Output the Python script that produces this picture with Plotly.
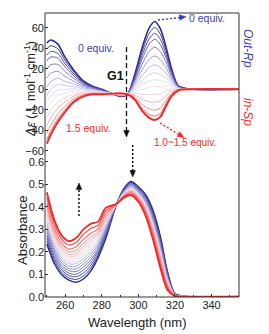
import math
import plotly.graph_objects as go

# ---------------- data ----------------
wl_cd = [250, 252, 256, 260, 265, 270, 275, 280, 290, 294, 298, 302, 306, 309, 312, 315, 318, 322, 330, 355]

cd_00 = [45, 48, 44, 31, 18, 8, 3, 0, -7, -5, 14, 40, 60, 66, 59, 42, 21, 3, 0, 0]
cd_06 = [39.1, 42.4, 39.4, 27.8, 16.2, 7.1, 2.5, -0.3, -6.8, -5, 12.6, 36.3, 54.7, 60.2, 53.8, 38.5, 19.3, 2.8, 0, 0]
cd_12 = [33.2, 36.8, 34.9, 24.6, 14.4, 6.2, 2.0, -0.6, -6.6, -5, 11.1, 32.7, 49.4, 54.5, 48.7, 34.9, 17.6, 2.5, 0, 0]
cd_18 = [27.4, 31.3, 30.3, 21.5, 12.6, 5.3, 1.6, -0.9, -6.5, -5, 9.7, 29.0, 44.2, 48.7, 43.5, 31.4, 16.0, 2.3, 0, 0]
cd_26 = [19.5, 23.8, 24.2, 17.2, 10.2, 4.1, 0.9, -1.3, -6.2, -5, 7.8, 24.1, 37.1, 41.0, 36.6, 26.7, 13.7, 2.0, 0, 0]
cd_35 = [10.7, 15.4, 17.4, 12.4, 7.5, 2.7, 0.2, -1.8, -5.9, -5, 5.6, 18.6, 29.2, 32.4, 28.9, 21.3, 11.2, 1.6, 0, 0]
cd_44 = [1.9, 7.1, 10.6, 7.7, 4.8, 1.4, -0.5, -2.2, -5.7, -5, 3.4, 13.2, 21.3, 23.8, 21.2, 16.0, 8.7, 1.2, 0, 0]
cd_52 = [-6.0, -0.4, 4.5, 3.4, 2.4, 0.2, -1.2, -2.6, -5.4, -5, 1.5, 8.3, 14.2, 16.1, 14.3, 11.3, 6.4, 0.9, 0, 0]
cd_59 = [-12.8, -6.9, -0.8, -0.3, 0.3, -0.9, -1.7, -3.0, -5.2, -5, -0.2, 4.0, 8.1, 9.4, 8.3, 7.2, 4.5, 0.6, 0, 0]
cd_66 = [-19.7, -13.4, -6.2, -4.0, -1.8, -1.9, -2.3, -3.3, -5.0, -5, -1.8, -0.3, 1.9, 2.6, 2.2, 3.1, 2.5, 0.4, 0, 0]
cd_74 = [-27.5, -20.8, -12.2, -8.2, -4.2, -3.1, -2.9, -3.7, -4.8, -5, -3.8, -5.1, -5.1, -5.0, -4.6, -1.7, 0.3, 0, 0, 0]
cd_82 = [-35.4, -28.3, -18.3, -12.5, -6.6, -4.3, -3.6, -4.1, -4.5, -5, -5.7, -10.0, -12.2, -12.7, -11.5, -6.4, -2.0, -0.3, 0, 0]
cd_90 = [-43.2, -35.7, -24.4, -16.7, -9.0, -5.5, -4.2, -4.5, -4.3, -5, -7.6, -14.9, -19.2, -20.4, -18.4, -11.1, -4.2, -0.6, 0, 0]
cd_96 = [-49.1, -41.3, -29.0, -19.9, -10.8, -6.4, -4.7, -4.8, -4.1, -5, -9.0, -18.6, -24.5, -26.2, -23.6, -14.6, -5.9, -0.8, 0, 0]
cd_150 = [-53, -45, -32, -22, -12, -7, -5, -5, -4, -5, -10, -21, -28, -30, -27, -17, -7, -1, 0, 0]

cd_series = [cd_00, cd_06, cd_12, cd_18, cd_26, cd_35, cd_44, cd_52, cd_59, cd_66,
             cd_74, cd_82, cd_90, cd_96, cd_150]
cd_colors = ["#2d2d91", "#3c3c9b", "#4f4fa6", "#6262b1", "#7d7dc0", "#9a9ad0", "#b5b5de",
             "#ccccea", "#dcdcf2", "#ece2ee", "#f8d0d0", "#f6b0b0", "#f48e8e", "#f26a6a", "#ee2a2a"]
cd_widths = [1.6] + [1.0] * 13 + [2.0]

wl_abs = [250, 254, 258, 262, 266, 270, 274, 278, 282, 286, 288, 292, 296, 300, 304, 308, 312, 316, 320, 325, 355]

ab_00 = [.235, .150, .100, .075, .066, .080, .115, .175, .255, .360, .410, .480, .513, .490, .455, .385, .270, .110, .015, .003, .002]
ab_06 = [.249, .162, .111, .085, .078, .093, .128, .185, .263, .363, .410, .478, .509, .486, .449, .377, .262, .105, .014, .003, .002]
ab_12 = [.263, .173, .121, .096, .090, .106, .140, .194, .272, .366, .410, .475, .506, .482, .444, .369, .253, .100, .014, .003, .002]
ab_18 = [.276, .185, .132, .106, .101, .120, .153, .204, .280, .369, .411, .473, .502, .478, .438, .362, .245, .096, .013, .003, .002]
ab_24 = [.290, .197, .142, .117, .113, .133, .165, .213, .289, .372, .411, .470, .498, .474, .432, .354, .236, .091, .012, .003, .002]
ab_30 = [.304, .209, .153, .127, .125, .146, .178, .223, .297, .374, .411, .468, .495, .470, .427, .346, .228, .086, .012, .003, .002]
ab_36 = [.318, .220, .163, .137, .137, .159, .191, .233, .305, .377, .411, .466, .491, .466, .421, .338, .220, .081, .011, .003, .002]
ab_42 = [.332, .232, .174, .148, .148, .172, .203, .242, .314, .380, .411, .463, .487, .462, .415, .330, .211, .076, .010, .003, .002]
ab_48 = [.345, .244, .184, .158, .160, .186, .216, .252, .322, .383, .411, .461, .484, .458, .409, .323, .203, .072, .010, .003, .002]
ab_54 = [.359, .255, .195, .168, .172, .199, .228, .261, .331, .386, .412, .458, .480, .454, .404, .315, .194, .067, .009, .002, .002]
ab_60 = [.373, .267, .205, .179, .184, .212, .241, .271, .339, .389, .412, .456, .476, .450, .398, .307, .186, .062, .008, .002, .002]
ab_66 = [.387, .279, .216, .189, .195, .225, .254, .281, .347, .392, .412, .454, .473, .446, .392, .299, .178, .057, .008, .002, .002]
ab_72 = [.401, .290, .226, .200, .207, .238, .266, .290, .356, .395, .412, .451, .469, .442, .387, .291, .169, .052, .007, .002, .002]
ab_80 = [.419, .306, .240, .213, .223, .256, .283, .303, .367, .398, .412, .448, .464, .436, .379, .281, .158, .046, .006, .002, .002]
ab_90 = [.442, .326, .258, .231, .242, .278, .304, .319, .381, .403, .413, .444, .458, .430, .370, .268, .144, .038, .005, .002, .002]
ab_150 = [.465, .345, .275, .248, .262, .300, .325, .335, .395, .408, .413, .440, .452, .423, .360, .255, .130, .030, .004, .002, .002]

ab_series = [ab_00, ab_06, ab_12, ab_18, ab_24, ab_30, ab_36, ab_42, ab_48, ab_54,
             ab_60, ab_66, ab_72, ab_80, ab_90, ab_150]
ab_colors = ["#2d2d91", "#3c3c9b", "#4f4fa6", "#6262b1", "#7777bd", "#8d8dc9", "#a4a4d6", "#bcbce2",
             "#d5d5ee", "#f2d8dc", "#f8c4c4", "#f8abab", "#f79191", "#f57373", "#f25050", "#ee2a2a"]
ab_widths = [1.5] + [1.0] * 12 + [1.2, 1.2, 1.8]

x_ticks = [260, 280, 300, 320, 340]
abs_ticks = [0.0, 0.1, 0.2, 0.3, 0.4, 0.5, 0.6]
cd_ticks = [-60, -40, -20, 0, 20, 40, 60]

# ---------------- figure ----------------
# the page puts the figure 8 px from the window's top-left corner
OFF = 8
WIN_W, WIN_H = 269, 334
PL, PR, PT, PB = 45, 239, 13, 297          # plot box in window pixels
W, H = WIN_W - OFF, WIN_H - OFF
ML, MT = PL - OFF, PT - OFF
MR, MB = W + OFF - PR, H + OFF - PB
PW, PH = PR - PL, PB - PT
SPLIT = 0.493
FONT = "Liberation Sans, Arial, sans-serif"
BLUE_TXT = "#3c3cb0"
RED_TXT = "#ee2a2a"


def P(px, py):
    return (px - PL) / PW, (PB - py) / PH


fig = go.Figure()
for ys, c, w in zip(cd_series, cd_colors, cd_widths):
    fig.add_trace(go.Scatter(x=wl_cd, y=ys, mode="lines", xaxis="x2", yaxis="y2",
                             line=dict(color=c, width=w, shape="spline", smoothing=0.8),
                             showlegend=False, hoverinfo="skip"))
for ys, c, w in zip(ab_series, ab_colors, ab_widths):
    fig.add_trace(go.Scatter(x=wl_abs, y=ys, mode="lines", xaxis="x", yaxis="y",
                             line=dict(color=c, width=w, shape="spline", smoothing=0.8),
                             showlegend=False, hoverinfo="skip"))

axis_common = dict(showgrid=False, zeroline=False, showline=False,
                   ticks="inside", ticklen=3, tickcolor="#333",
                   tickfont=dict(family=FONT, size=11, color="#222"))

fig.update_layout(
    width=W, height=H,
    margin=dict(l=ML, r=MR, t=MT, b=MB, autoexpand=False),
    paper_bgcolor="white", plot_bgcolor="white",
    xaxis=dict(domain=[0, 1], range=[249, 355], anchor="y", tickvals=x_ticks,
               minor=dict(dtick=10, tick0=250, ticks="inside", ticklen=2, tickcolor="#333"),
               **axis_common),
    xaxis2=dict(domain=[0, 1], range=[249, 355], anchor="y2", matches="x",
                showticklabels=False, showgrid=False, zeroline=False, showline=False, ticks=""),
    yaxis=dict(domain=[0, SPLIT], range=[0, 0.622], anchor="x", tickvals=abs_ticks,
               tickformat=".1f", **axis_common),
    yaxis2=dict(domain=[SPLIT, 1], range=[-66.1, 74.3], anchor="x2", tickvals=cd_ticks,
                **axis_common),
)

shapes = [dict(type="rect", xref="paper", yref="paper", x0=0, y0=0, x1=1, y1=1,
               line=dict(color="#333", width=1))]


def seg(p0, p1, color, dash, width=1.2):
    x0, y0 = P(*p0)
    x1, y1 = P(*p1)
    shapes.append(dict(type="line", xref="paper", yref="paper", x0=x0, y0=y0, x1=x1, y1=y1,
                       line=dict(color=color, width=width, dash=dash)))


def head(tip, tail, color, length=6.5, half=2.8):
    dx, dy = tip[0] - tail[0], tip[1] - tail[1]
    n = math.hypot(dx, dy)
    ux, uy = dx / n, dy / n
    bx, by = tip[0] - length * ux, tip[1] - length * uy
    pts = [tip, (bx - half * uy, by + half * ux), (bx + half * uy, by - half * ux)]
    pp = [P(*q) for q in pts]
    path = "M {:.5f} {:.5f} L {:.5f} {:.5f} L {:.5f} {:.5f} Z".format(
        pp[0][0], pp[0][1], pp[1][0], pp[1][1], pp[2][0], pp[2][1])
    shapes.append(dict(type="path", xref="paper", yref="paper", path=path,
                       fillcolor=color, line=dict(color=color, width=0.5)))


annotations = []


def label(px, py, text, color="#222", size=11, angle=0, xanchor="center"):
    x, y = P(px, py)
    annotations.append(dict(x=x, y=y, xref="paper", yref="paper", text=text, showarrow=False,
                            textangle=angle, xanchor=xanchor, yanchor="middle",
                            font=dict(family=FONT, size=size, color=color)))


# arrows
seg((126.5, 47), (126.5, 131), "#111", "5px,3px", 1.3)
head((126.5, 137), (126.5, 129), "#111")
seg((132.7, 145), (132.7, 171), "#111", "2px,2px", 1.5)
head((132.7, 177), (132.7, 169), "#111")
seg((79, 216), (79, 190), "#111", "2px,2px", 1.5)
head((79, 183), (79, 191), "#111")
seg((158, 20), (180, 17.5), BLUE_TXT, "2px,2px", 1.4)
head((186, 16.8), (178, 17.7), BLUE_TXT)
seg((160, 123), (178, 134), RED_TXT, "2px,2px", 1.4)
head((184, 137.5), (177, 133.3), RED_TXT)

# texts
label(30, 89, "<i>Δε</i> ( L mol<sup>-1</sup> cm<sup>-1</sup>)", size=12.5, angle=-90)
label(22, 231, "Absorbance", size=13, angle=-90)
label(137, 322, "Wavelength (nm)", size=13)
label(96, 48, "0 equiv.", color=BLUE_TXT, size=10.5)
label(115, 76, "<b>G1</b>", color="#111", size=12.5)
label(88, 128, "1.5 equiv.", color=RED_TXT, size=10.5)
label(187, 18, "0 equiv.", color=BLUE_TXT, size=10.5, xanchor="left")
label(185, 143, "1.0~1.5 equiv.", color=RED_TXT, size=10)
label(248, 48, "<i>Out-Rp</i>", color=BLUE_TXT, size=12, angle=90)
label(248, 112, "<i>in-Sp</i>", color=RED_TXT, size=12, angle=90)

fig.update_layout(shapes=shapes, annotations=annotations)
fig.write_html("out.html")
